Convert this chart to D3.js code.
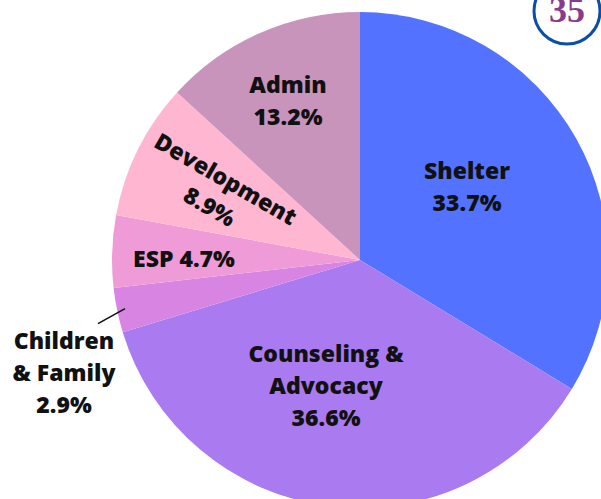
<!DOCTYPE html>
<html>
<head>
<meta charset="utf-8">
<script src="https://cdn.jsdelivr.net/npm/d3@7"></script>
<style>
html,body{margin:0;padding:0;background:#fff;overflow:hidden;}
svg{display:block;}
</style>
</head>
<body>
<script>
// slice data, clockwise from 12 o'clock
var categories=['Shelter','Counseling & Advocacy','Children & Family','ESP','Development','Admin'];
var shares=[33.7,36.6,2.9,4.7,8.9,13.2];
var shareLabels=['33.7%','36.6%','2.9%','4.7%','8.9%','13.2%'];
var colors=['#5372ff','#a97af0','#d884e3','#ef9bd7','#ffb7d1','#c894bc'];
var badgeText='35';

var width=601,height=499;
var cx=360,cy=260,radius=248;

var svg=d3.select('body').append('svg')
.attr('width',width)
.attr('height',height);

var pie=d3.pie().sort(null).value(function(d){return d;});
var arcs=pie(shares);
var arc=d3.arc().innerRadius(0).outerRadius(radius);

var g=svg.append('g').attr('transform','translate('+cx+','+cy+')');

g.selectAll('path')
.data(arcs)
.enter()
.append('path')
.attr('d',arc)
.attr('fill',function(d,i){return colors[i];});

// label placement relative to the pie centre (first baseline), line text
var labelLayout=[
    {x:107,y:-81,rot:0,lines:[categories[0],shareLabels[0]]},
    {x:-34,y:102,rot:0,lines:['Counseling &','Advocacy',shareLabels[1]]},
    null,
    {x:-176,y:7,rot:0,lines:[categories[3]+' '+shareLabels[3]]},
    {x:-143,y:-66,rot:30,lines:[categories[4],shareLabels[4]]},
    {x:-72,y:-167,rot:0,lines:[categories[5],shareLabels[5]]}
];
var lineH=32;

function labelText(sel){
    return sel.attr('text-anchor','middle')
    .style('font-family','"Open Sans", sans-serif')
    .style('font-weight','800')
    .style('font-size','23px')
    .style('fill','#111');
}

arcs.forEach(function(d,i){
    var L=labelLayout[i];
    if(!L) return;
    var t=labelText(g.append('text'));
    if(L.rot){
        t.attr('transform','translate('+L.x+','+L.y+') rotate('+L.rot+')');
        L.lines.forEach(function(s,k){
            t.append('tspan').attr('x',0).attr('y',(k-0.5)*lineH+7).text(s);
        });
    }else{
        L.lines.forEach(function(s,k){
            t.append('tspan').attr('x',L.x).attr('y',L.y+k*lineH).text(s);
        });
    }
});

// outside label for the small slice
var small=arcs[2];
var sa=(small.startAngle+small.endAngle)/2;
var p=[Math.sin(sa)*(radius-8),-Math.cos(sa)*(radius-8)];
g.append('line')
.attr('x1',p[0])
.attr('y1',p[1])
.attr('x2',p[0]-27)
.attr('y2',p[1]+15)
.attr('stroke','#111')
.attr('stroke-width',1.6);

var outside=labelText(svg.append('text'));
['Children','& Family',shareLabels[2]].forEach(function(s,k){
    outside.append('tspan')
    .attr('x',64)
    .attr('y',349+k*lineH)
    .text(s);
});

// page badge
var badge=svg.append('g').attr('transform','translate(567,11)');
badge.append('circle')
.attr('r',33)
.attr('fill','#fff')
.attr('stroke','#0b4fa6')
.attr('stroke-width',3);
badge.append('text')
.attr('text-anchor','middle')
.attr('y',11)
.style('font-family','"Liberation Serif", serif')
.style('font-weight','700')
.style('font-size','36px')
.style('fill','#8a3a8e')
.text(badgeText);
</script>
</body>
</html>
